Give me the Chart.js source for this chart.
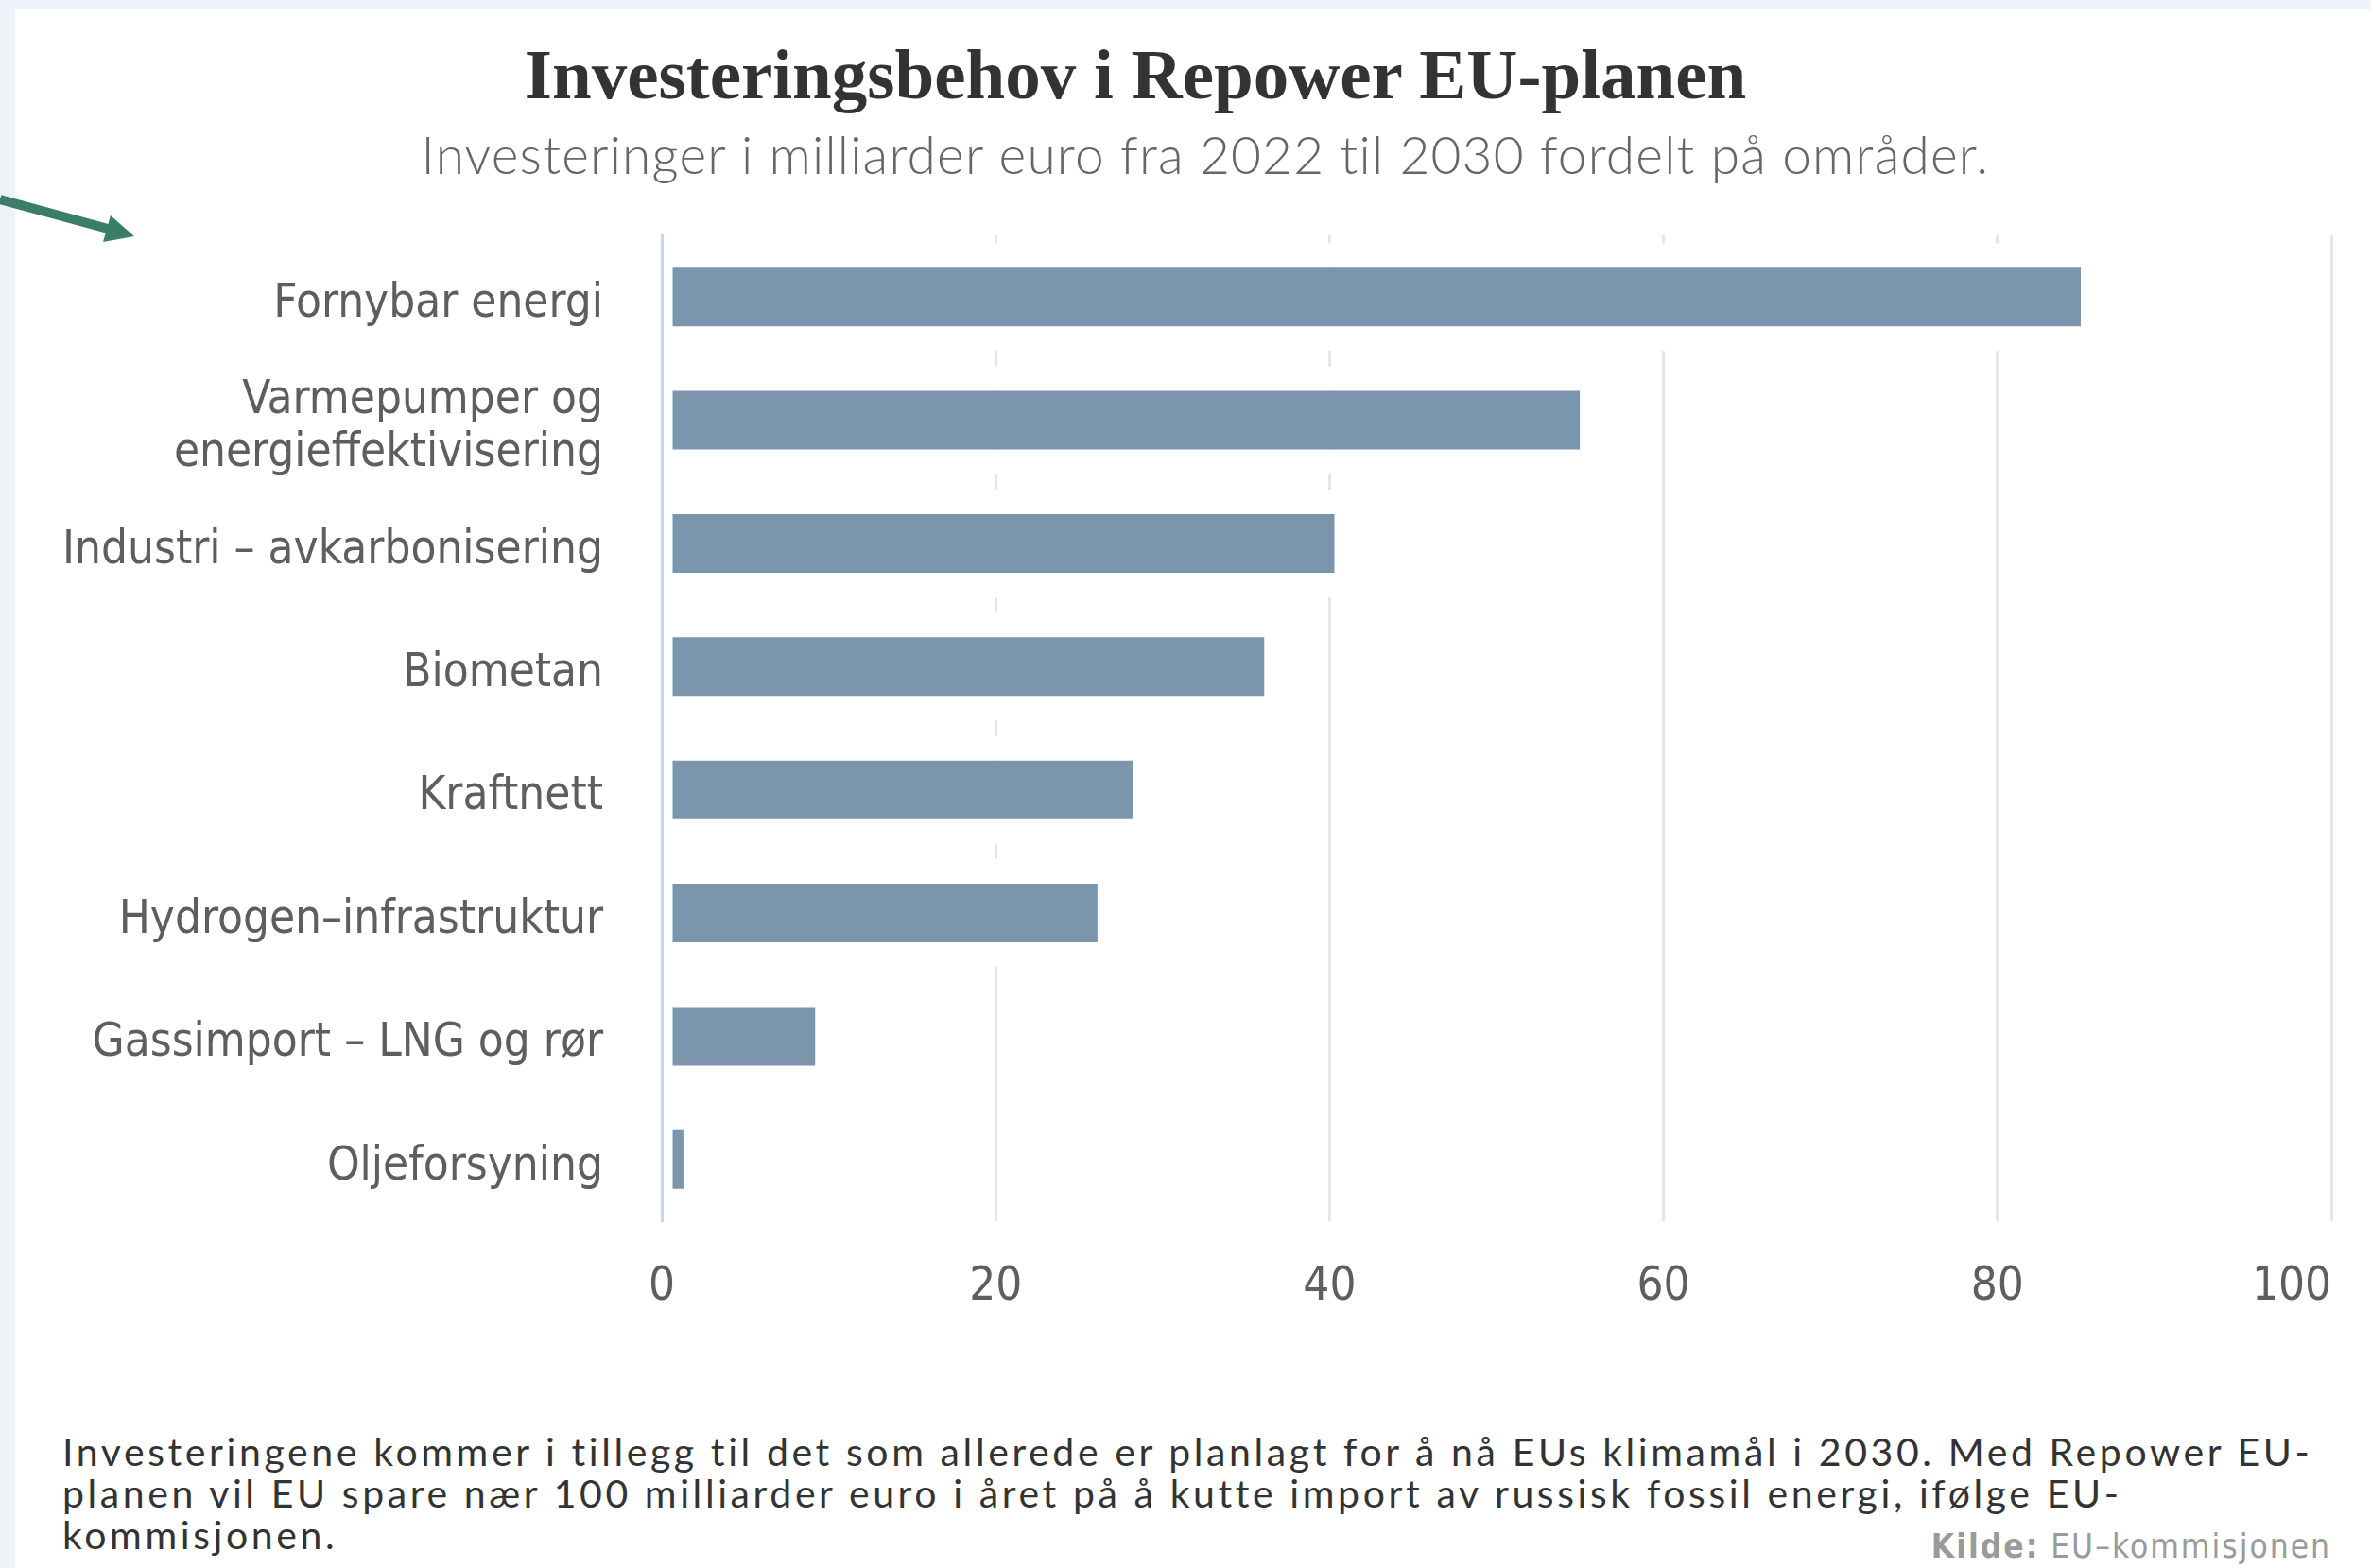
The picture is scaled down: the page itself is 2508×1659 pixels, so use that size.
<!DOCTYPE html>
<html>
<head>
<meta charset="utf-8">
<script src="https://cdn.jsdelivr.net/npm/chart.js@4/dist/chart.umd.min.js"></script>
<style>
  html, body { margin: 0; padding: 0; }
  body { width: 2508px; height: 1659px; background: #eef2f9; position: relative; overflow: hidden; }
  #panel { position: absolute; left: 16px; top: 10px; right: 0; bottom: 0; background: #fff; }
  #holder { position: absolute; left: 0; top: 0; width: 2508px; height: 1420px; }
  .txt { position: absolute; white-space: nowrap; line-height: 1; }
  #title { left: 0; width: 2402px; top: 36px; text-align: center; font: bold 75px "Liberation Serif", serif; color: #333; }
  #subtitle { left: 0; width: 2550px; top: 130px; text-align: center; font: 300 55px Lato, sans-serif; color: #666; letter-spacing: 1.2px; }
  #note { left: 66px; top: 1514px; font: 400 41px Lato, sans-serif; color: #333; line-height: 44px; letter-spacing: 3.6px; }
  #source { right: 42px; top: 1616px; font: 35px "DejaVu Sans Condensed", "DejaVu Sans", sans-serif; color: #9a9a9a; letter-spacing: 2px; }
  #arrow { position: absolute; left: 0; top: 0; }
</style>
</head>
<body>
<div id="panel"></div>
<svg id="arrow" width="200" height="300">
  <line x1="0" y1="211" x2="118" y2="243" stroke="#3b7d68" stroke-width="10"/>
  <polygon points="142,250 117,228 109,256" fill="#3b7d68"/>
</svg>
<div id="holder"><canvas id="myChart"></canvas></div>
<div class="txt" id="title">Investeringsbehov i Repower EU-planen</div>
<div class="txt" id="subtitle">Investeringer i milliarder euro fra 2022 til 2030 fordelt på områder.</div>
<div class="txt" id="note">Investeringene kommer i tillegg til det som allerede er planlagt for å nå EUs klimamål i 2030. Med Repower EU-<br>planen vil EU spare nær 100 milliarder euro i året på å kutte import av russisk fossil energi, ifølge EU-<br>kommisjonen.</div>
<div class="txt" id="source"><b>Kilde:</b> EU–kommisjonen</div>

<script>
// omrader (kategorier)
const omrader = [
  'Fornybar energi',
  ['Varmepumper og', 'energieffektivisering'],
  'Industri – avkarbonisering',
  'Biometan',
  'Kraftnett',
  'Hydrogen–infrastruktur',
  'Gassimport – LNG og rør',
  'Oljeforsyning'
];
// milliarder euro
const investeringer = [85, 55, 40.3, 36.1, 28.2, 26.1, 9.2, 1.3];
const xTicks = [0, 20, 40, 60, 80, 100];

const labelFont = { family: "'DejaVu Sans Condensed', 'DejaVu Sans', sans-serif", size: 49, lineHeight: 1.15 };

// first x label centred, last label right aligned (like the original)
const tickAlignFix = {
  id: 'tickAlignFix',
  beforeDraw(chart) {
    const items = chart.scales.x.getLabelItems(chart.chartArea);
    if (items.length) items[0].options.textAlign = 'center';
  }
};

const ctx = document.getElementById('myChart').getContext('2d');

const config = {
  type: 'bar',
  data: {
    labels: omrader,
    datasets: [{
      data: investeringer,
      backgroundColor: '#7b95ad',
      borderColor: '#ffffff',
      borderWidth: { top: 26, bottom: 26, left: 10, right: 0 },
      borderSkipped: false,
      barPercentage: 0.874,
      categoryPercentage: 1
    }]
  },
  options: {
    indexAxis: 'y',
    responsive: true,
    maintainAspectRatio: false,
    animation: false,
    layout: { padding: { top: 249, right: 37, left: 0, bottom: 0 } },
    plugins: {
      legend: { display: false },
      tooltip: { enabled: false }
    },
    scales: {
      x: {
        min: 0,
        max: 100,
        afterBuildTicks(scale) { scale.ticks = xTicks.map(v => ({ value: v })); },
        afterFit(scale) { scale.height = 128; },
        grid: { color: '#e6e6e6', lineWidth: 3, drawTicks: false },
        border: { display: false },
        ticks: { align: 'inner', padding: 42, color: '#5e5e5e', font: labelFont }
      },
      y: {
        afterFit(scale) { scale.width = 700; },
        grid: { display: false, drawTicks: false },
        border: { display: true, color: '#c9d5ea', width: 3, z: 1 },
        ticks: { padding: 62, labelOffset: 8, color: '#5e5e5e', font: labelFont }
      }
    }
  },
  plugins: [tickAlignFix]
};

window.myChart = new Chart(ctx, config);
</script>
</body>
</html>
